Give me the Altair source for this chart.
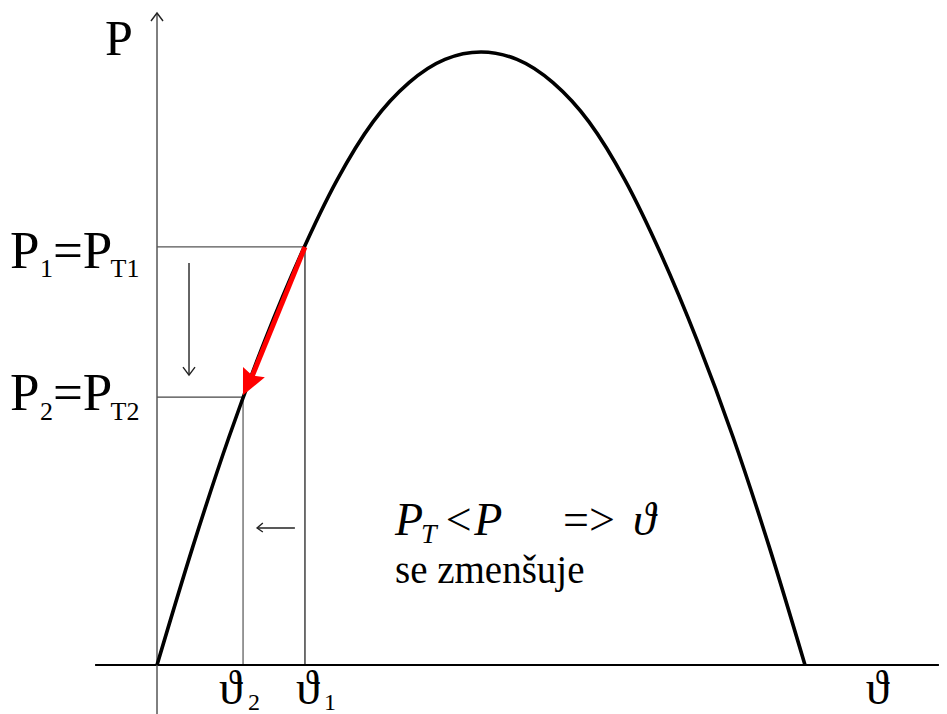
import altair as alt
import pandas as pd

# ---- data (load angle in degrees, power in p.u.) ----
theta_deg = [0, 10, 20, 30, 40, 50, 60, 70, 80, 90, 100, 110, 120, 130, 140, 150, 160, 170, 180]
power_pu = [0, 0.194, 0.372, 0.530, 0.670, 0.791, 0.886, 0.950, 0.988, 1.0,
            0.988, 0.950, 0.886, 0.791, 0.670, 0.530, 0.372, 0.194, 0]

theta1, p1 = 41.1, 0.682
theta2, p2 = 23.9, 0.437

x_axis_span = [-17.2, 217.2]
y_axis_span = [-0.08, 1.0636]

W, H = 931, 706
X_DOM = [-41.39, 217.22]
Y_DOM = [-0.0799, 1.0718]

SERIF = "Liberation Serif"

xs = alt.Scale(domain=X_DOM, nice=False, zero=False)
ys = alt.Scale(domain=Y_DOM, nice=False, zero=False)


def X(f="t"):
    return alt.X(f"{f}:Q", scale=xs, axis=None)


def Y(f="p"):
    return alt.Y(f"{f}:Q", scale=ys, axis=None)


curve_df = pd.DataFrame({"t": theta_deg, "p": power_pu})

curve = alt.Chart(curve_df).mark_line(
    color="black", strokeWidth=3.6, interpolate="monotone"
).encode(x=X(), y=Y())

# axes
axes_df = pd.DataFrame({
    "t": [x_axis_span[0], 0], "p": [0, y_axis_span[0]],
    "t2": [x_axis_span[1], 0], "p2": [0, y_axis_span[1]],
    "c": ["#000000", "#555555"], "w": [2.0, 1.5],
})
axes = alt.Chart(axes_df).mark_rule().encode(
    x=X(), y=Y(), x2="t2:Q", y2="p2:Q",
    color=alt.Color("c:N", scale=None),
    strokeWidth=alt.StrokeWidth("w:Q", scale=None),
)

# guide lines for the two operating points
guides_df = pd.DataFrame({
    "t": [0, theta1, 0, theta2],
    "p": [p1, 0, p2, 0],
    "t2": [theta1, theta1, theta2, theta2],
    "p2": [p1, p1, p2, p2],
    "c": ["#555555", "#111111", "#444444", "#555555"],
})
guides = alt.Chart(guides_df).mark_rule(strokeWidth=1.2).encode(
    x=X(), y=Y(), x2="t2:Q", y2="p2:Q", color=alt.Color("c:N", scale=None)
)

# small arrows (polylines): axis head, down arrow, left arrow
arrow_rows = [
    ("ya", 0, -1.67, 1.0506), ("ya", 1, 0, 1.0636), ("ya", 2, 1.67, 1.0506),
    ("dn", 0, 8.89, 0.656), ("dn", 1, 8.89, 0.473),
    ("dh", 0, 7.22, 0.486), ("dh", 1, 8.89, 0.473), ("dh", 2, 10.56, 0.486),
    ("lf", 0, 38.3, 0.2235), ("lf", 1, 27.8, 0.2235),
    ("lh", 0, 29.4, 0.2316), ("lh", 1, 27.8, 0.2235), ("lh", 2, 29.4, 0.217),
]
arrows_df = pd.DataFrame(arrow_rows, columns=["g", "i", "t", "p"])
arrows = alt.Chart(arrows_df).mark_line(color="#222222", strokeWidth=1.4).encode(
    x=X(), y=Y(), detail="g:N", order="i:Q"
)

# red arrow along the curve from point 1 to point 2
red_df = pd.DataFrame({"t": [theta1, 26.0], "p": [p1, 0.465]})
red_line = alt.Chart(red_df).mark_line(color="#ff0000", strokeWidth=5, strokeCap="butt").encode(
    x=X(), y=Y()
)
head_df = pd.DataFrame({"t": [25.4], "p": [0.459]})
red_head = alt.Chart(head_df).mark_point(
    shape="M0,-1L0.95,1L0,0.7L-0.95,1Z", filled=True, color="#ff0000",
    opacity=1, size=650, angle=205.5, strokeWidth=0
).encode(x=X(), y=Y())

# texts
up_rows = [
    ("P", -14.44, 0.995, 50),
    ("P", -40.83, 0.6476, 53), ("1", -32.5, 0.633, 26), ("=P", -28.9, 0.6476, 53), ("T1", -12.9, 0.633, 26),
    ("P", -40.83, 0.416, 53), ("2", -32.5, 0.3997, 26), ("=P", -28.9, 0.416, 53), ("T2", -12.9, 0.3997, 26),
    ("ϑ", 17.2, -0.0640, 48), ("2", 25.3, -0.074, 24),
    ("ϑ", 38.6, -0.0640, 48), ("1", 46.4, -0.074, 24),
    ("ϑ", 196.9, -0.0640, 48),
    ("=>", 112.8, 0.212, 46),
    ("se zmenšuje", 66.1, 0.1338, 39),
]
it_rows = [
    ("P", 66.1, 0.212, 46), ("T", 73.3, 0.199, 28), ("<", 79.4, 0.212, 46),
    ("P", 88.1, 0.212, 46), ("ϑ", 132.2, 0.212, 46),
]
up_df = pd.DataFrame(up_rows, columns=["s", "t", "p", "fs"])
it_df = pd.DataFrame(it_rows, columns=["s", "t", "p", "fs"])

txt_up = alt.Chart(up_df).mark_text(
    font=SERIF, align="left", baseline="alphabetic", color="black"
).encode(x=X(), y=Y(), text="s:N", size=alt.Size("fs:Q", scale=None))
txt_it = alt.Chart(it_df).mark_text(
    font=SERIF, fontStyle="italic", align="left", baseline="alphabetic", color="black"
).encode(x=X(), y=Y(), text="s:N", size=alt.Size("fs:Q", scale=None))

chart = alt.layer(
    guides, axes, curve, arrows, red_line, red_head, txt_up, txt_it
).properties(
    width=W, height=H, padding=0, background="white",
    autosize=alt.AutoSizeParams(type="none"),
).configure_view(stroke=None)

chart.save("out.html", embed_options={"renderer": "svg", "actions": False})
